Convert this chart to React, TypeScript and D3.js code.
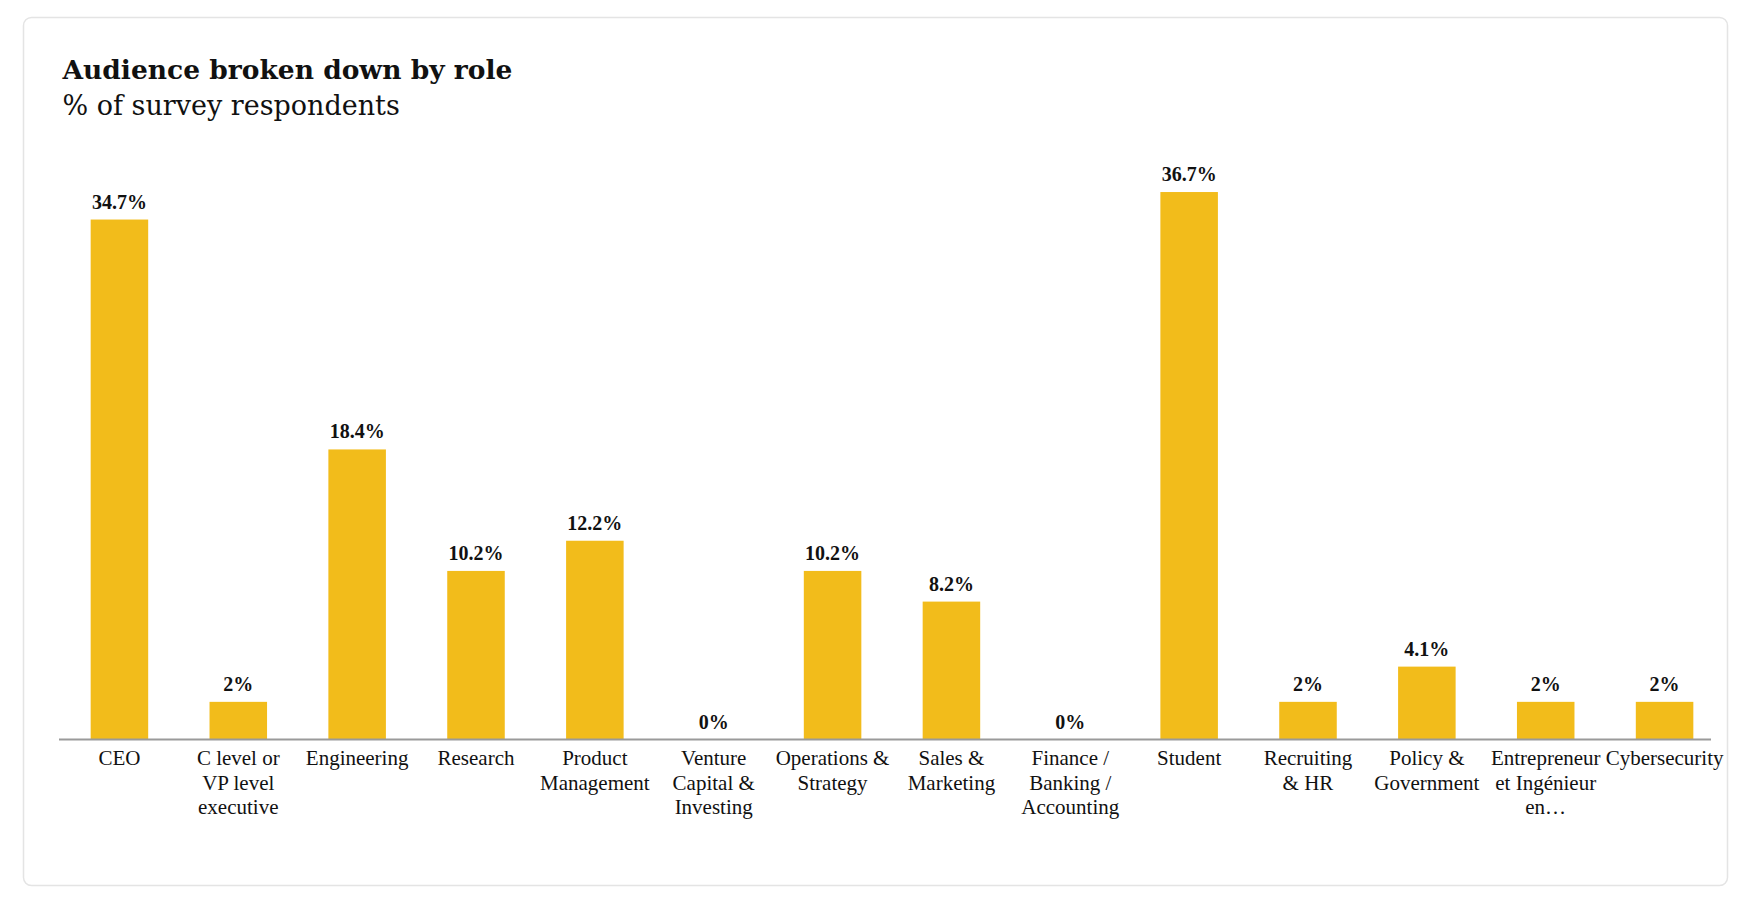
"use client";

import { useEffect, useRef } from "react";
import * as d3 from "d3";

// Roles on the x axis, in the order shown
const categories = [
  "CEO",
  "C level or VP level executive",
  "Engineering",
  "Research",
  "Product Management",
  "Venture Capital & Investing",
  "Operations & Strategy",
  "Sales & Marketing",
  "Finance / Banking / Accounting",
  "Student",
  "Recruiting & HR",
  "Policy & Government",
  "Entrepreneur et Ingénieur en…",
  "Cybersecurity",
];

// Wrapped tick labels, one array of lines per role
const tickLines = [
  ["CEO"],
  ["C level or", "VP level", "executive"],
  ["Engineering"],
  ["Research"],
  ["Product", "Management"],
  ["Venture", "Capital &", "Investing"],
  ["Operations &", "Strategy"],
  ["Sales &", "Marketing"],
  ["Finance /", "Banking /", "Accounting"],
  ["Student"],
  ["Recruiting", "& HR"],
  ["Policy &", "Government"],
  ["Entrepreneur", "et Ingénieur", "en…"],
  ["Cybersecurity"],
];

// % of survey respondents
const values = [34.7, 2, 18.4, 10.2, 12.2, 0, 10.2, 8.2, 0, 36.7, 2, 4.1, 2, 2];

const title = "Audience broken down by role";
const subtitle = "% of survey respondents";

export default function App() {
  const svgRef = useRef<SVGSVGElement | null>(null);

  useEffect(() => {
    document.body.style.margin = "0";
    if (!svgRef.current) return;

    const width = 1743;
    const height = 902;
    const axisY = 739.5;
    const barColor = "#F2BC1B";
    const labelFont = "'Liberation Serif', 'Times New Roman', serif";
    const titleFont = "'DejaVu Serif', Georgia, serif";

    const svg = d3
      .select(svgRef.current)
      .attr("width", width)
      .attr("height", height)
      .attr("viewBox", `0 0 ${width} ${height}`);

    svg.selectAll("*").remove();

    svg.append("rect").attr("width", width).attr("height", height).attr("fill", "#ffffff");

    // card
    svg
      .append("rect")
      .attr("x", 23.5)
      .attr("y", 17.5)
      .attr("width", 1704)
      .attr("height", 868)
      .attr("rx", 8)
      .attr("fill", "#ffffff")
      .attr("stroke", "#e4e4e4")
      .attr("stroke-width", 1.5);

    svg
      .append("text")
      .attr("x", 62.5)
      .attr("y", 79)
      .attr("font-family", titleFont)
      .attr("font-weight", "bold")
      .attr("font-size", 26.5)
      .attr("fill", "#111")
      .text(title);

    svg
      .append("text")
      .attr("x", 62.5)
      .attr("y", 115)
      .attr("font-family", titleFont)
      .attr("font-size", 27)
      .attr("fill", "#111")
      .text(subtitle);

    const xScale = d3
      .scaleBand()
      .domain(categories)
      .range([60, 1724])
      .paddingInner(0.516)
      .paddingOuter(0.258);

    // slightly compressed scale, as in the source chart
    const yScale = d3.scalePow().exponent(0.92).domain([0, 40]).range([axisY, axisY - 592.6]);

    const data = categories.map((c, i) => ({ c, v: values[i], lines: tickLines[i] }));

    svg
      .selectAll(".bar")
      .data(data)
      .join("rect")
      .attr("class", "bar")
      .attr("x", (d) => xScale(d.c) ?? 0)
      .attr("y", (d) => yScale(d.v))
      .attr("width", xScale.bandwidth())
      .attr("height", (d) => axisY - yScale(d.v))
      .attr("fill", barColor);

    // axis baseline
    svg
      .append("line")
      .attr("x1", 59)
      .attr("x2", 1711)
      .attr("y1", axisY)
      .attr("y2", axisY)
      .attr("stroke", "#9a9a9a")
      .attr("stroke-width", 2);

    // value labels
    svg
      .selectAll(".value")
      .data(data)
      .join("text")
      .attr("class", "value")
      .attr("x", (d) => (xScale(d.c) ?? 0) + xScale.bandwidth() / 2)
      .attr("y", (d) => yScale(d.v) - 11)
      .attr("text-anchor", "middle")
      .attr("font-family", labelFont)
      .attr("font-weight", "bold")
      .attr("font-size", 20)
      .attr("fill", "#111")
      .text((d) => `${d.v}%`);

    // category labels
    const ticks = svg
      .selectAll(".tick-label")
      .data(data)
      .join("text")
      .attr("class", "tick-label")
      .attr("text-anchor", "middle")
      .attr("font-family", labelFont)
      .attr("font-size", 21)
      .attr("fill", "#111");

    ticks
      .selectAll("tspan")
      .data((d) => d.lines.map((line) => ({ line, x: (xScale(d.c) ?? 0) + xScale.bandwidth() / 2 })))
      .join("tspan")
      .attr("x", (d) => d.x)
      .attr("y", (_, i) => axisY + 25.5 + i * 24.5)
      .text((d) => d.line);
  }, []);

  return <svg ref={svgRef}></svg>;
}
